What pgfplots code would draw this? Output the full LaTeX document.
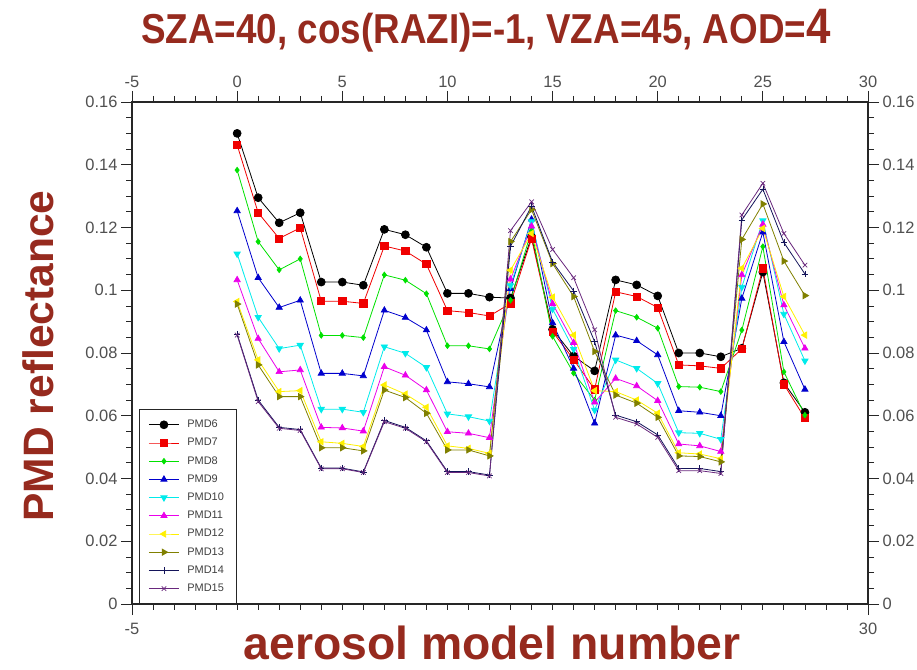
\documentclass[border=0pt]{standalone}
\usepackage{pgfplots}
\pgfplotsset{compat=1.18}
\usepackage{pgfplotstable}
\usepackage{fontspec}
\setmainfont{Liberation Sans}
\usepackage{graphicx}

\definecolor{titlered}{RGB}{150,42,30}
\definecolor{tickgray}{RGB}{80,80,80}
\definecolor{cBlack}{RGB}{0,0,0}
\definecolor{cRed}{RGB}{240,0,0}
\definecolor{cGreen}{RGB}{0,225,0}
\definecolor{cBlue}{RGB}{0,0,205}
\definecolor{cCyan}{RGB}{0,235,235}
\definecolor{cMagenta}{RGB}{235,0,235}
\definecolor{cYellow}{RGB}{255,240,0}
\definecolor{cOlive}{RGB}{128,128,0}
\definecolor{cNavy}{RGB}{20,20,90}
\definecolor{cPurple}{RGB}{105,40,125}

\pgfplotstableread{
x  p6     p7     p8     p9     p10    p11    p12    p13    p14    p15
0  0.1500 0.1463 0.1383 0.1253 0.1116 0.1033 0.0964 0.0956 0.0860 0.0857
1  0.1295 0.1247 0.1155 0.1040 0.0914 0.0846 0.0778 0.0762 0.0650 0.0645
2  0.1215 0.1165 0.1065 0.0945 0.0814 0.0740 0.0677 0.0661 0.0563 0.0560
3  0.1247 0.1199 0.1100 0.0968 0.0825 0.0746 0.0680 0.0661 0.0556 0.0553
4  0.1026 0.0965 0.0856 0.0735 0.0621 0.0563 0.0517 0.0498 0.0433 0.0431
5  0.1026 0.0965 0.0856 0.0735 0.0621 0.0561 0.0512 0.0498 0.0433 0.0431
6  0.1016 0.0958 0.0849 0.0727 0.0611 0.0551 0.0502 0.0488 0.0421 0.0419
7  0.1194 0.1141 0.1049 0.0936 0.0820 0.0756 0.0698 0.0682 0.0585 0.0581
8  0.1177 0.1125 0.1032 0.0913 0.0799 0.0729 0.0669 0.0658 0.0563 0.0560
9  0.1137 0.1083 0.0989 0.0873 0.0754 0.0682 0.0627 0.0608 0.0520 0.0517
10 0.0990 0.0935 0.0823 0.0708 0.0606 0.0549 0.0504 0.0491 0.0422 0.0419
11 0.0990 0.0929 0.0823 0.0702 0.0597 0.0544 0.0496 0.0491 0.0422 0.0419
12 0.0978 0.0918 0.0813 0.0692 0.0583 0.0530 0.0480 0.0472 0.0411 0.0408
13 0.0975 0.0958 0.0968 0.1005 0.1015 0.1035 0.1064 0.1155 0.1140 0.1190
14 0.1170 0.1164 0.1190 0.1226 0.1219 0.1204 0.1181 0.1257 0.1268 0.1282
15 0.0875 0.0868 0.0853 0.0896 0.0940 0.0957 0.0978 0.1085 0.1090 0.1130
16 0.0790 0.0779 0.0736 0.0751 0.0812 0.0833 0.0857 0.0980 0.0998 0.1040
17 0.0743 0.0684 0.0650 0.0576 0.0618 0.0643 0.0680 0.0805 0.0836 0.0874
18 0.1033 0.0995 0.0935 0.0857 0.0778 0.0719 0.0677 0.0666 0.0602 0.0595
19 0.1017 0.0980 0.0914 0.0839 0.0751 0.0695 0.0650 0.0640 0.0581 0.0574
20 0.0982 0.0945 0.0879 0.0794 0.0703 0.0648 0.0608 0.0595 0.0539 0.0531
21 0.0800 0.0762 0.0693 0.0616 0.0546 0.0510 0.0482 0.0472 0.0432 0.0425
22 0.0800 0.0759 0.0691 0.0611 0.0544 0.0504 0.0478 0.0470 0.0432 0.0425
23 0.0788 0.0751 0.0677 0.0600 0.0525 0.0486 0.0463 0.0453 0.0422 0.0416
24 0.0815 0.0813 0.0873 0.0974 0.1010 0.1049 0.1070 0.1162 0.1224 0.1240
25 0.1058 0.1070 0.1139 0.1185 0.1222 0.1210 0.1197 0.1275 0.1322 0.1341
26 0.0705 0.0700 0.0740 0.0836 0.0924 0.0953 0.0980 0.1093 0.1152 0.1181
27 0.0611 0.0592 0.0602 0.0684 0.0775 0.0815 0.0857 0.0983 0.1052 0.1080
}\datatable

\pgfplotsset{
  frameaxis/.style={
    at={(132bp,66bp)}, anchor=south west, scale only axis,
    width=736bp, height=502bp,
    xmin=-5, xmax=30, ymin=0, ymax=0.16,
    tick align=outside,
    major tick length=11bp, minor tick length=6bp,
    axis line style={line width=1.1bp, black!85},
    every tick/.style={line width=0.8bp, black!85},
    minor y tick num=3,
    ytick={0,0.02,0.04,0.06,0.08,0.1,0.12,0.14,0.16},
    yticklabels={0,0.02,0.04,0.06,0.08,0.1,0.12,0.14,0.16},
    tick label style={font=\fontsize{16.5}{18}\selectfont, text=tickgray},
    /pgf/number format/assume math mode=true,
  },
  ser/.style n args={3}{color=#1, line width=0.8bp, mark=#2, mark size=#3,
    mark options={solid, fill=#1, draw=#1, line width=0.7bp}},
}

\begin{document}
\begin{tikzpicture}
\useasboundingbox (0,0) rectangle (917bp,670bp);
\begin{axis}[frameaxis,
  xtick={-5,0,...,30}, minor x tick num=4,
  xtick pos=right, xticklabel pos=right,
  ytick pos=left, yticklabel pos=left,
  legend cell align=left,
  legend style={at={(axis cs:-4.66,0)}, anchor=south west,
    draw=black!85, line width=0.8bp, fill=white,
    font=\fontsize{11}{12}\selectfont, text=black!75,
    nodes={text height=8bp, text depth=2bp, inner sep=4bp},
    row sep=0.2bp, column sep=4bp, inner xsep=9bp, inner ysep=6bp},
  legend image code/.code={\draw[mark repeat=2,mark phase=2,#1]
     plot coordinates {(0bp,0bp)(15bp,0bp)(30bp,0bp)};},
]
\addplot[ser={cBlack}{*}{4}] table[x=x,y=p6]{\datatable};
\addlegendentry{PMD6}
\addplot[ser={cRed}{square*}{3.6}] table[x=x,y=p7]{\datatable};
\addlegendentry{PMD7}
\addplot[ser={cGreen}{diamond*}{2.8}] table[x=x,y=p8]{\datatable};
\addlegendentry{PMD8}
\addplot[ser={cBlue}{triangle*}{3.6}] table[x=x,y=p9]{\datatable};
\addlegendentry{PMD9}
\addplot[ser={cCyan}{triangle*}{3.6}, mark options={rotate=180}] table[x=x,y=p10]{\datatable};
\addlegendentry{PMD10}
\addplot[ser={cMagenta}{triangle*}{3.6}] table[x=x,y=p11]{\datatable};
\addlegendentry{PMD11}
\addplot[ser={cYellow}{triangle*}{3.6}, mark options={rotate=90}] table[x=x,y=p12]{\datatable};
\addlegendentry{PMD12}
\addplot[ser={cOlive}{triangle*}{3.6}, mark options={rotate=-90}] table[x=x,y=p13]{\datatable};
\addlegendentry{PMD13}
\addplot[ser={cNavy}{+}{3.2}] table[x=x,y=p14]{\datatable};
\addlegendentry{PMD14}
\addplot[ser={cPurple}{x}{3.2}] table[x=x,y=p15]{\datatable};
\addlegendentry{PMD15}
\end{axis}
\begin{axis}[frameaxis,
  xtick={-5,30}, minor xtick={-4,-3,...,29},
  xtick pos=left, xticklabel pos=left,
  xticklabel style={yshift=-5bp},
  ytick pos=right, yticklabel pos=right,
]
\end{axis}
\node[anchor=base, text=titlered, font=\fontsize{42}{46}\selectfont\bfseries]
  at (486bp,626bp) {\scalebox{0.88}[1]{SZA=40, cos(RAZI)=-1, VZA=45, AOD={\fontsize{50}{50}\selectfont 4}}};
\node[anchor=base, text=titlered, font=\fontsize{46.5}{50}\selectfont\bfseries]
  at (492bp,11bp) {aerosol model number};
\node[anchor=base, rotate=90, text=titlered, font=\fontsize{42.7}{46}\selectfont\bfseries]
  at (53bp,314bp) {PMD reflectance};
\end{tikzpicture}
\end{document}
